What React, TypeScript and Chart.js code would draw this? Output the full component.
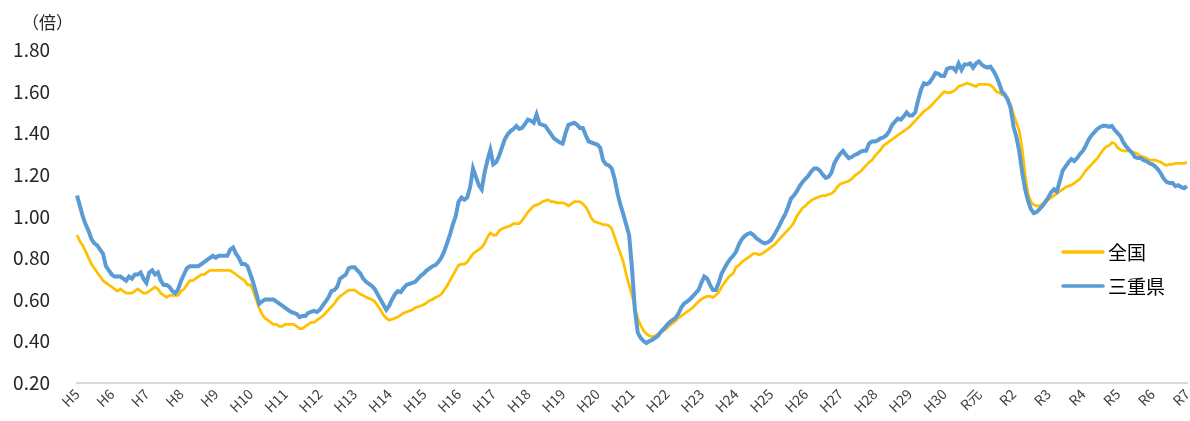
import React, { useEffect, useRef } from 'react';
import { Chart, registerables } from 'chart.js';

Chart.register(...registerables);

// Year tick labels (one per January)
const yearLabels = [
  'H5', 'H6', 'H7', 'H8', 'H9', 'H10', 'H11', 'H12', 'H13', 'H14', 'H15', 'H16', 'H17',
  'H18', 'H19', 'H20', 'H21', 'H22', 'H23', 'H24', 'H25', 'H26', 'H27', 'H28', 'H29', 'H30',
  'R元', 'R2', 'R3', 'R4', 'R5', 'R6', 'R7',
];

const seriesNames = ['全国', '三重県'];
const seriesColors = ['#ffc000', '#5b9bd5'];
const unitLabel = '（倍）';

// 全国 monthly (H5.1 - R7.1)
const zenkoku = [
  0.91, 0.88, 0.86, 0.83, 0.80, 0.77, 0.75, 0.73, 0.71, 0.69, 0.68, 0.67,
  0.66, 0.65, 0.64, 0.65, 0.64, 0.63, 0.63, 0.63, 0.64, 0.65, 0.64, 0.63,
  0.63, 0.64, 0.65, 0.66, 0.65, 0.63, 0.62, 0.61, 0.62, 0.62, 0.62, 0.62,
  0.64, 0.65, 0.67, 0.69, 0.69, 0.70, 0.71, 0.72, 0.72, 0.73, 0.74, 0.74,
  0.74, 0.74, 0.74, 0.74, 0.74, 0.74, 0.73, 0.72, 0.71, 0.70, 0.69, 0.67,
  0.67, 0.64, 0.60, 0.56, 0.53, 0.51, 0.50, 0.49, 0.48, 0.48, 0.47, 0.47,
  0.48, 0.48, 0.48, 0.48, 0.47, 0.46, 0.46, 0.47, 0.48, 0.49, 0.49, 0.50,
  0.51, 0.52, 0.535, 0.55, 0.565, 0.58, 0.60, 0.615, 0.625, 0.635, 0.645, 0.645,
  0.645, 0.635, 0.625, 0.62, 0.61, 0.605, 0.60, 0.59, 0.57, 0.55, 0.525, 0.51,
  0.50, 0.505, 0.51, 0.515, 0.525, 0.535, 0.54, 0.545, 0.55, 0.56, 0.565, 0.57,
  0.575, 0.585, 0.595, 0.60, 0.61, 0.615, 0.625, 0.645, 0.665, 0.69, 0.715, 0.74,
  0.765, 0.77, 0.77, 0.78, 0.80, 0.82, 0.83, 0.84, 0.85, 0.87, 0.90, 0.92,
  0.91, 0.91, 0.93, 0.94, 0.945, 0.95, 0.955, 0.965, 0.965, 0.965, 0.98, 1.00,
  1.02, 1.035, 1.05, 1.055, 1.06, 1.07, 1.075, 1.08, 1.07, 1.07, 1.065, 1.065,
  1.065, 1.06, 1.05, 1.06, 1.07, 1.07, 1.07, 1.06, 1.045, 1.02, 0.99, 0.975,
  0.97, 0.965, 0.96, 0.96, 0.955, 0.94, 0.90, 0.86, 0.82, 0.78, 0.72, 0.67,
  0.62, 0.56, 0.51, 0.475, 0.45, 0.435, 0.425, 0.42, 0.425, 0.435, 0.44, 0.45,
  0.46, 0.475, 0.485, 0.495, 0.51, 0.52, 0.53, 0.54, 0.55, 0.56, 0.575, 0.59,
  0.60, 0.61, 0.615, 0.615, 0.61, 0.62, 0.635, 0.66, 0.68, 0.70, 0.715, 0.725,
  0.755, 0.765, 0.78, 0.79, 0.80, 0.81, 0.82, 0.82, 0.815, 0.82, 0.83, 0.84,
  0.85, 0.86, 0.875, 0.89, 0.905, 0.92, 0.935, 0.95, 0.97, 1.00, 1.02, 1.04,
  1.05, 1.065, 1.075, 1.085, 1.09, 1.095, 1.10, 1.10, 1.105, 1.11, 1.12, 1.14,
  1.155, 1.16, 1.165, 1.17, 1.18, 1.195, 1.205, 1.215, 1.23, 1.245, 1.26, 1.27,
  1.29, 1.305, 1.32, 1.34, 1.35, 1.36, 1.37, 1.38, 1.39, 1.40, 1.41, 1.42,
  1.43, 1.445, 1.46, 1.475, 1.49, 1.505, 1.515, 1.525, 1.54, 1.555, 1.57, 1.585,
  1.60, 1.595, 1.595, 1.60, 1.61, 1.625, 1.63, 1.635, 1.64, 1.635, 1.63, 1.625,
  1.635, 1.635, 1.635, 1.635, 1.63, 1.62, 1.60, 1.595, 1.585, 1.58, 1.57, 1.535,
  1.49, 1.45, 1.41, 1.32, 1.20, 1.11, 1.07, 1.055, 1.05, 1.05, 1.06, 1.065,
  1.08, 1.09, 1.10, 1.11, 1.12, 1.13, 1.14, 1.145, 1.15, 1.16, 1.17, 1.18,
  1.20, 1.22, 1.235, 1.25, 1.265, 1.28, 1.30, 1.32, 1.335, 1.34, 1.355, 1.35,
  1.33, 1.32, 1.315, 1.315, 1.315, 1.31, 1.305, 1.30, 1.29, 1.285, 1.28, 1.27,
  1.27, 1.27, 1.265, 1.26, 1.25, 1.245, 1.25, 1.25, 1.255, 1.255, 1.255, 1.255,
  1.26,
];

// 三重県 monthly (H5.1 - R7.1)
const mie = [
  1.10, 1.05, 1.00, 0.96, 0.93, 0.89, 0.87, 0.86, 0.84, 0.82, 0.76, 0.74,
  0.72, 0.71, 0.71, 0.71, 0.70, 0.69, 0.71, 0.70, 0.72, 0.72, 0.73, 0.70,
  0.68, 0.73, 0.74, 0.72, 0.73, 0.69, 0.67, 0.67, 0.66, 0.64, 0.63, 0.65,
  0.69, 0.72, 0.75, 0.76, 0.76, 0.76, 0.76, 0.77, 0.78, 0.79, 0.80, 0.81,
  0.80, 0.81, 0.81, 0.81, 0.81, 0.84, 0.85, 0.82, 0.80, 0.77, 0.77, 0.76,
  0.72, 0.68, 0.63, 0.58, 0.59, 0.60, 0.60, 0.60, 0.60, 0.59, 0.58, 0.57,
  0.56, 0.55, 0.54, 0.535, 0.53, 0.515, 0.52, 0.52, 0.535, 0.54, 0.545, 0.54,
  0.55, 0.57, 0.59, 0.61, 0.64, 0.645, 0.66, 0.70, 0.71, 0.72, 0.75, 0.755,
  0.755, 0.74, 0.725, 0.70, 0.685, 0.675, 0.665, 0.65, 0.625, 0.60, 0.575, 0.55,
  0.57, 0.60, 0.625, 0.64, 0.635, 0.655, 0.67, 0.675, 0.68, 0.685, 0.70, 0.715,
  0.725, 0.74, 0.75, 0.76, 0.765, 0.78, 0.80, 0.83, 0.87, 0.91, 0.96, 1.00,
  1.07, 1.09, 1.08, 1.09, 1.14, 1.23, 1.19, 1.15, 1.13, 1.21, 1.27, 1.32,
  1.25, 1.26, 1.29, 1.33, 1.37, 1.395, 1.41, 1.42, 1.435, 1.42, 1.425, 1.445,
  1.465, 1.46, 1.45, 1.49, 1.445, 1.44, 1.435, 1.415, 1.395, 1.375, 1.365, 1.355,
  1.35, 1.40, 1.44, 1.445, 1.45, 1.44, 1.425, 1.425, 1.39, 1.36, 1.355, 1.35,
  1.345, 1.33, 1.27, 1.25, 1.245, 1.23, 1.18, 1.11, 1.055, 1.01, 0.96, 0.91,
  0.75, 0.55, 0.44, 0.415, 0.40, 0.39, 0.40, 0.405, 0.415, 0.425, 0.445, 0.46,
  0.475, 0.49, 0.50, 0.51, 0.53, 0.56, 0.58, 0.59, 0.60, 0.615, 0.63, 0.645,
  0.68, 0.71, 0.70, 0.67, 0.645, 0.645, 0.68, 0.725, 0.75, 0.775, 0.795, 0.81,
  0.83, 0.865, 0.89, 0.905, 0.915, 0.92, 0.91, 0.895, 0.885, 0.875, 0.87, 0.875,
  0.885, 0.905, 0.93, 0.955, 0.985, 1.01, 1.045, 1.085, 1.10, 1.12, 1.145, 1.165,
  1.18, 1.195, 1.215, 1.23, 1.23, 1.22, 1.20, 1.185, 1.19, 1.21, 1.255, 1.28,
  1.30, 1.315, 1.295, 1.28, 1.285, 1.295, 1.30, 1.31, 1.315, 1.315, 1.35, 1.36,
  1.36, 1.365, 1.375, 1.38, 1.39, 1.41, 1.44, 1.455, 1.47, 1.465, 1.48, 1.50,
  1.485, 1.485, 1.50, 1.56, 1.61, 1.64, 1.635, 1.645, 1.665, 1.69, 1.685, 1.675,
  1.675, 1.71, 1.715, 1.715, 1.70, 1.735, 1.705, 1.73, 1.73, 1.735, 1.715, 1.735,
  1.745, 1.73, 1.72, 1.715, 1.72, 1.70, 1.675, 1.64, 1.60, 1.585, 1.56, 1.52,
  1.43, 1.38, 1.31, 1.21, 1.13, 1.075, 1.035, 1.015, 1.02, 1.035, 1.05, 1.07,
  1.09, 1.115, 1.13, 1.12, 1.17, 1.22, 1.24, 1.26, 1.275, 1.265, 1.28, 1.30,
  1.315, 1.34, 1.37, 1.39, 1.405, 1.42, 1.43, 1.435, 1.435, 1.43, 1.435, 1.415,
  1.40, 1.385, 1.355, 1.335, 1.32, 1.305, 1.285, 1.28, 1.28, 1.27, 1.265, 1.255,
  1.25, 1.24, 1.225, 1.205, 1.18, 1.165, 1.16, 1.16, 1.145, 1.15, 1.14, 1.135,
  1.145,
];

const FONT = "'Noto Sans CJK JP', 'Noto Sans', sans-serif";

// monthly category labels: year label on January, blank otherwise
const monthLabels: string[] = yearLabels.flatMap((y, i) =>
  i === yearLabels.length - 1 ? [y] : [y, ...Array(11).fill('')]
);

const overlayPlugin = {
  id: 'overlay',
  afterDraw(chart: any) {
    const ctx = chart.ctx;
    const area = chart.chartArea;
    ctx.save();
    // unit label
    ctx.fillStyle = '#262626';
    ctx.font = `17px ${FONT}`;
    ctx.textAlign = 'left';
    ctx.textBaseline = 'middle';
    ctx.fillText(unitLabel, 22, 23);
    // legend
    const lx = area.right - 124;
    const ly = [252, 286];
    seriesNames.forEach((name, i) => {
      ctx.strokeStyle = seriesColors[i];
      ctx.lineWidth = 3.5;
      ctx.lineCap = 'round';
      ctx.beginPath();
      ctx.moveTo(lx, ly[i]);
      ctx.lineTo(lx + 40, ly[i]);
      ctx.stroke();
      ctx.fillStyle = '#000000';
      ctx.font = `19px ${FONT}`;
      ctx.textAlign = 'left';
      ctx.textBaseline = 'middle';
      ctx.fillText(name, lx + 45, ly[i] + 1);
    });
    ctx.restore();
  },
};

export default function App() {
  const canvasRef = useRef<HTMLCanvasElement | null>(null);

  useEffect(() => {
    const canvas = canvasRef.current;
    if (!canvas) return;
    const chart = new Chart(canvas, {
      type: 'line',
      data: {
        labels: monthLabels,
        datasets: [
          {
            label: seriesNames[0],
            data: zenkoku,
            borderColor: seriesColors[0],
            backgroundColor: seriesColors[0],
            borderWidth: 2.75,
            pointRadius: 0,
            tension: 0,
            order: 1,
          },
          {
            label: seriesNames[1],
            data: mie,
            borderColor: seriesColors[1],
            backgroundColor: seriesColors[1],
            borderWidth: 4,
            pointRadius: 0,
            tension: 0,
            order: 0,
          },
        ],
      },
      options: {
        animation: false,
        responsive: false,
        maintainAspectRatio: false,
        layout: { padding: { left: 0, right: 3, top: 50, bottom: 0 } },
        plugins: {
          legend: { display: false },
          tooltip: { enabled: false },
        },
        scales: {
          x: {
            grid: { display: false, drawTicks: false },
            border: { display: true, color: '#d9d9d9', width: 2 },
            ticks: {
              autoSkip: false,
              maxRotation: 45,
              minRotation: 45,
              padding: 3,
              color: '#404040',
              font: { size: 14, family: FONT },
            },
            afterCalculateLabelRotation: (s: any) => {
              s.labelRotation = 45;
            },
            afterFit: (s: any) => {
              s.height = 34;
              s.paddingRight = 0;
              s.paddingLeft = 0;
            },
          },
          y: {
            min: 0.2,
            max: 1.8,
            grid: { display: false, drawTicks: false },
            border: { display: false },
            ticks: {
              stepSize: 0.2,
              padding: 27,
              color: '#262626',
              font: { size: 19, family: FONT },
              callback: (v: any) => Number(v).toFixed(2),
            },
            afterFit: (s: any) => {
              s.width = 77;
            },
          },
        },
      },
      plugins: [overlayPlugin],
    });
    return () => chart.destroy();
  }, []);

  return (
    <div style={{ position: 'absolute', left: 0, top: 0, width: 1190, height: 421, background: '#ffffff' }}>
      <canvas ref={canvasRef} width={1190} height={421} style={{ display: 'block' }} />
    </div>
  );
}
